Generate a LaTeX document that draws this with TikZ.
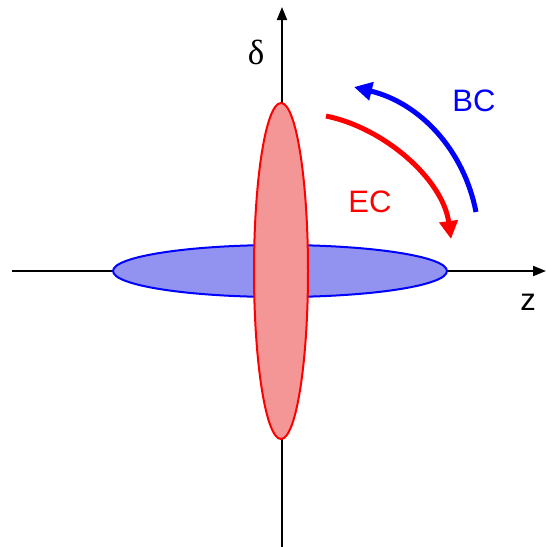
\documentclass[tikz,border=0pt]{standalone}
\usepackage{fontspec}
\setmainfont{Liberation Sans}
\newfontfamily\serifgr{Liberation Serif}
\usetikzlibrary{arrows.meta,shapes.geometric}
\definecolor{bfill}{RGB}{146,146,240}
\definecolor{rfill}{RGB}{245,150,150}
\definecolor{myblue}{RGB}{0,0,255}
\definecolor{myred}{RGB}{255,0,0}
\tikzset{
  axis/.style={line width=2pt, -{Triangle[length=13pt,width=10pt]}},
  arc/.style={line width=5pt, -{Triangle[length=18pt,width=18pt]}},
  lab/.style={font=\fontsize{31}{31}\selectfont, inner sep=0pt},
}
\begin{document}
\begin{tikzpicture}[x=1pt,y=-1pt]
\useasboundingbox (0,0) rectangle (546,547);
\coordinate (xl) at (12,271);
\coordinate (xr) at (546,271);
\coordinate (yb) at (282,547);
\coordinate (yt) at (282,7);
\draw[axis] (xl) -- (xr);
\draw[axis] (yb) -- (yt);
\node[ellipse, draw=myblue, fill=bfill, line width=2pt, minimum width=334pt, minimum height=52pt, inner sep=0pt] (be) at (280,271) {};
\node[ellipse, draw=myred, fill=rfill, line width=2pt, minimum width=54pt, minimum height=336pt, inner sep=0pt] (re) at (281,271) {};
\coordinate (rs) at (326,116);
\coordinate (rt) at (451,239);
\coordinate (bs) at (476,212);
\coordinate (bt) at (354,87);
\draw[arc, myred] (rs) .. controls (385,128) and (443,180) .. (rt);
\draw[arc, myblue] (bs) .. controls (464,150) and (420,103) .. (bt);
\node[lab, font=\serifgr\fontsize{35}{35}\selectfont] (d) at (256,52) {δ};
\node[lab] (z) at (528,302) {z};
\node[lab, text=myblue] (bc) at (474,101) {BC};
\node[lab, text=myred] (ec) at (370,202) {EC};
\end{tikzpicture}
\end{document}
